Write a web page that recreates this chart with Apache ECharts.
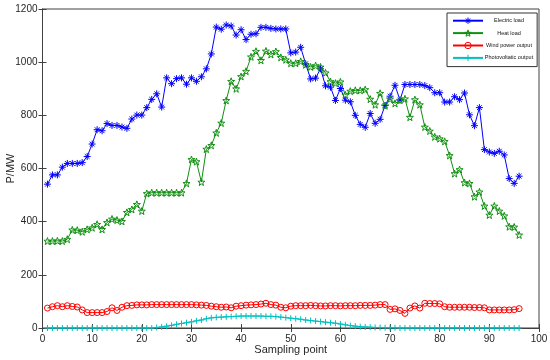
<!DOCTYPE html>
<html>
<head>
<meta charset="utf-8">
<script src="https://cdn.jsdelivr.net/npm/echarts@6/dist/echarts.min.js"></script>
<style>html,body{margin:0;padding:0;background:#fff;}#c{width:550px;height:360px;}</style>
</head>
<body>
<div id="c"></div>
<script>
const xTicks = [0, 10, 20, 30, 40, 50, 60, 70, 80, 90, 100];
const yTicks = [0, 200, 400, 600, 800, 1000, 1200];
const seriesNames = ['Electric load', 'Heat load', 'Wind power output', 'Photovoltatic output'];

const electricLoad = [541, 576, 576, 605, 619, 619, 619, 622, 645, 692, 746, 742, 769, 762, 762, 756, 751, 786, 801, 801,
  829, 860, 881, 831, 941, 919, 938, 941, 917, 941, 928, 945, 975, 1031, 1132, 1124, 1140, 1136, 1102, 1122,
  1085, 1105, 1107, 1131, 1131, 1127, 1125, 1125, 1125, 1035, 1038, 1056, 994, 937, 940, 975, 911, 906, 856, 901,
  857, 851, 800, 766, 755, 807, 770, 785, 837, 872, 913, 857, 916, 916, 916, 916, 912, 904, 885, 885,
  850, 850, 870, 859, 884, 802, 761, 829, 671, 662, 657, 665, 651, 562, 544, 571];

const heatLoad = [327, 327, 328, 327, 334, 369, 368, 362, 371, 377, 390, 371, 397, 410, 406, 401, 435, 446, 465, 440,
  506, 509, 509, 509, 509, 509, 509, 509, 544, 634, 626, 549, 673, 687, 734, 771, 856, 928, 900, 946,
  966, 1020, 1041, 1007, 1042, 1029, 1040, 1018, 1009, 996, 996, 1003, 990, 982, 987, 982, 960, 927, 921, 926,
  877, 891, 894, 894, 897, 861, 840, 883, 836, 862, 845, 857, 862, 793, 859, 840, 756, 741, 719, 712,
  702, 649, 581, 596, 547, 544, 494, 512, 459, 425, 459, 440, 422, 381, 380, 350];

const windPower = [75, 80, 84, 80, 84, 81, 79, 68, 58, 58, 58, 58, 62, 76, 66, 78, 84, 85, 87, 87,
  87, 88, 88, 88, 88, 88, 88, 88, 88, 88, 87, 86, 85, 82, 80, 78, 79, 76, 82, 84,
  86, 87, 88, 90, 93, 88, 86, 78, 76, 82, 84, 84, 84, 85, 84, 83, 83, 84, 84, 83,
  84, 84, 84, 85, 85, 85, 86, 88, 88, 70, 72, 66, 55, 75, 83, 75, 93, 92, 92, 91,
  80, 78, 78, 78, 78, 78, 77, 77, 76, 68, 68, 68, 68, 68, 69, 73];

const pvOutput = [0, 0, 0, 0, 0, 0, 0, 0, 0, 0, 0, 0, 0, 0, 0, 0, 0, 0, 0, 0,
  0, 0, 2, 4, 7, 10, 14, 17, 20, 23, 27, 30, 35, 38, 40, 41, 42, 43, 44, 45,
  45, 45, 45, 45, 44, 44, 43, 41, 39, 37, 35, 33, 30, 28, 26, 24, 22, 20, 18, 15,
  12, 9, 7, 5, 4, 3, 2, 2, 1, 1, 1, 0, 0, 0, 0, 0, 0, 0, 0, 0,
  0, 0, 0, 0, 0, 0, 0, 0, 0, 0, 0, 0, 0, 0, 0, 0];

const samplingPoints = electricLoad.map((_, i) => i + 1);
const pairs = arr => arr.map((v, i) => [samplingPoints[i], v]);

const ASTERISK = 'path://M5,0L5,10M0,5L10,5M1.6,1.6L8.4,8.4M8.4,1.6L1.6,8.4';
const STAR = 'path://M5,0L6.176,3.382L9.755,3.455L6.902,5.618L7.939,9.045L5,7L2.061,9.045L3.098,5.618L0.245,3.455L3.824,3.382Z';
const PLUS = 'path://M5,0L5,10M0,5L10,5';

const FONT = 'Liberation Sans, Arial, sans-serif';
const AXC = '#404040';
const TXT = '#262626';

function mk(name, data, color, symbol, size, fill) {
  return {
    name, type: 'line', data: pairs(data), symbol, symbolSize: size,
    showSymbol: true,
    lineStyle: { color, width: 1 },
    itemStyle: { color: fill, borderColor: color, borderWidth: 1 },
    emphasis: { disabled: true },
    z: 3
  };
}

const chart = echarts.init(document.getElementById('c'), null, { renderer: 'canvas' });
chart.setOption({
  animation: false,
  backgroundColor: '#ffffff',
  textStyle: { fontFamily: FONT },
  grid: { left: 42.5, right: 11, top: 9, bottom: 32, show: true, borderColor: AXC, borderWidth: 1,
    containLabel: false, outerBoundsMode: 'none' },
  legend: {
    orient: 'vertical', left: 447, top: 13,
    padding: [4, 4, 5, 5], itemGap: 5, itemWidth: 30, itemHeight: 8,
    borderColor: '#333', borderWidth: 1, backgroundColor: '#fff',
    data: seriesNames,
    itemStyle: { borderWidth: 1 },
    formatter: n => '{c|' + n + '}',
    textStyle: { fontSize: 5.5, color: '#111', fontFamily: FONT,
      rich: { c: { width: 42, align: 'center', fontSize: 5.5, fontFamily: FONT, color: '#111' } } },
    z: 10
  },
  xAxis: [{
    type: 'value', min: xTicks[0], max: xTicks[xTicks.length - 1], interval: 10,
    name: 'Sampling point', nameLocation: 'middle', nameGap: 16, nameMoveOverlap: false,
    nameTextStyle: { fontSize: 11, color: TXT, fontFamily: FONT },
    axisLine: { show: true, lineStyle: { color: AXC, width: 1 } },
    axisTick: { show: true, inside: true, length: 4, lineStyle: { color: AXC } },
    axisLabel: { fontSize: 10, color: TXT, margin: 6, fontFamily: FONT, formatter: v => String(v) },
    splitLine: { show: false }
  }, {
    type: 'value', position: 'top', min: xTicks[0], max: xTicks[xTicks.length - 1], interval: 10,
    axisLine: { show: true, lineStyle: { color: AXC, width: 1 } },
    axisTick: { show: true, inside: true, length: 4, lineStyle: { color: AXC } },
    axisLabel: { show: false }, splitLine: { show: false }
  }],
  yAxis: [{
    type: 'value', min: yTicks[0], max: yTicks[yTicks.length - 1], interval: 200,
    name: 'P/MW', nameLocation: 'middle', nameGap: 26, nameMoveOverlap: false,
    nameTextStyle: { fontSize: 11, color: TXT, fontFamily: FONT },
    axisLine: { show: true, lineStyle: { color: AXC, width: 1 } },
    axisTick: { show: true, inside: true, length: 4, lineStyle: { color: AXC } },
    axisLabel: { fontSize: 10, color: TXT, margin: 5, fontFamily: FONT, formatter: v => String(v) },
    splitLine: { show: false }
  }, {
    type: 'value', position: 'right', min: yTicks[0], max: yTicks[yTicks.length - 1], interval: 200,
    axisLine: { show: true, lineStyle: { color: AXC, width: 1 } },
    axisTick: { show: true, inside: true, length: 4, lineStyle: { color: AXC } },
    axisLabel: { show: false }, splitLine: { show: false }
  }],
  series: [
    mk(seriesNames[0], electricLoad, '#0000ff', ASTERISK, 7, '#0000ff'),
    mk(seriesNames[1], heatLoad, '#109010', STAR, 7, 'rgba(255,255,255,0)'),
    mk(seriesNames[2], windPower, '#ff0000', 'circle', 6, 'rgba(255,255,255,0)'),
    mk(seriesNames[3], pvOutput, '#00c0c0', PLUS, 6, '#00c0c0')
  ]
});
</script>
</body>
</html>
